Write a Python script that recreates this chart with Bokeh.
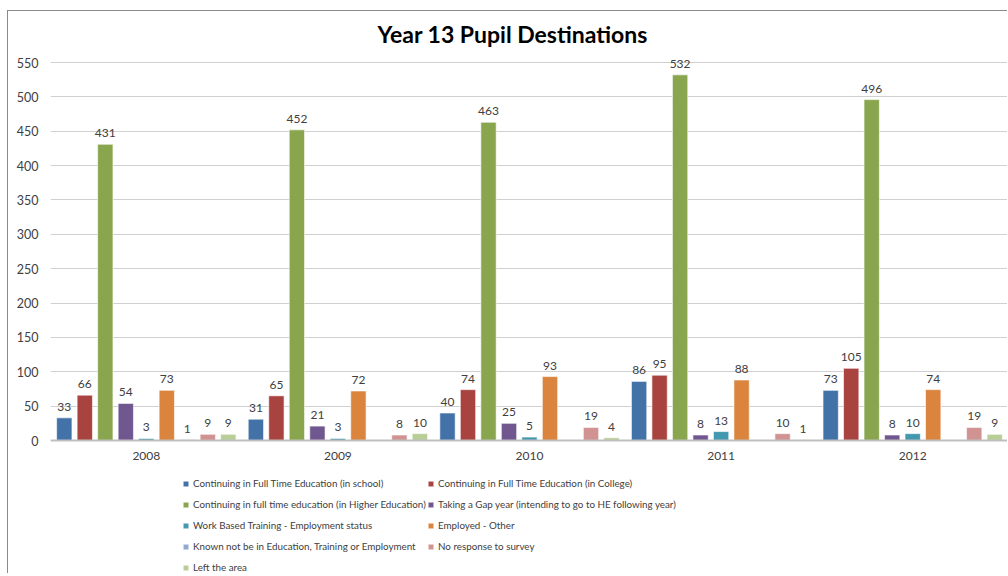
from bokeh.plotting import figure
from bokeh.models import (ColumnDataSource, FactorRange, FixedTicker, Legend, LegendItem,
                          Range1d, Label, Span)
from bokeh.transform import dodge
from bokeh.core.properties import value
from bokeh.embed import file_html
from bokeh.resources import INLINE

# ---- data ----
years = ["2008", "2009", "2010", "2011", "2012"]
series_names = [
    "Continuing in Full Time Education (in school)",
    "Continuing in Full Time Education (in College)",
    "Continuing in full time education (in Higher Education)",
    "Taking a Gap year (intending to go to HE following year)",
    "Work Based Training - Employment status",
    "Employed - Other",
    "Known not be in Education, Training or Employment",
    "No response to survey",
    "Left the area",
]
school = [33, 31, 40, 86, 73]
college = [66, 65, 74, 95, 105]
higher_ed = [431, 452, 463, 532, 496]
gap_year = [54, 21, 25, 8, 8]
work_training = [3, 3, 5, 13, 10]
employed = [73, 72, 93, 88, 74]
neet = [1, None, None, None, None]
no_response = [9, 8, 19, 10, 19]
left_area = [9, 10, 4, 1, 9]
y_ticks = [0, 50, 100, 150, 200, 250, 300, 350, 400, 450, 500, 550]
title_text = "Year 13  Pupil Destinations"

series_values = [school, college, higher_ed, gap_year, work_training,
                 employed, neet, no_response, left_area]
colors = ["#4372A8", "#A9433F", "#89A64E", "#71578F", "#4298AF",
          "#DA843D", "#93A8CE", "#D19391", "#B8CE96"]

FONT = "Lato"

# frame spans page y 11..574; 550 sits at page y 62 and 0 at page y 440
px_per_unit = 378 / 550
y_top = 550 + 51 / px_per_unit
y_bottom = -134 / px_per_unit

p = figure(width=1000, height=563, x_range=FactorRange(*years, range_padding=0),
           y_range=Range1d(y_bottom, y_top), output_backend="svg", toolbar_location=None,
           x_axis_location=None,
           min_border_left=42, min_border_right=0, min_border_top=0,
           min_border_bottom=0)
p.styles = {"margin-left": "7px", "margin-top": "10px", "vertical-align": "top",
            "border-left": "1px solid #8A8A8A", "border-top": "1px solid #8A8A8A"}
p.outline_line_color = None

# title (screen position relative to the plot frame)
p.add_layout(Label(x=465, y=541, x_units="screen", y_units="screen", text=title_text,
                   text_align="center", text_baseline="middle", text_font=FONT,
                   text_font_size="23px", text_font_style="bold", text_color="#000000"))

# y axis
p.yaxis.ticker = FixedTicker(ticks=y_ticks)
p.yaxis.axis_line_color = None
p.yaxis.major_tick_line_color = None
p.yaxis.major_tick_out = 0
p.yaxis.major_tick_in = 0
p.yaxis.minor_tick_line_color = None
p.yaxis.major_label_standoff = 12
p.yaxis.major_label_text_font = FONT
p.yaxis.major_label_text_font_size = "12.5px"
p.yaxis.major_label_text_color = "#404040"

p.xgrid.grid_line_color = None
p.ygrid.grid_line_color = "#D0D0D0"
p.ygrid.grid_line_width = 1

# baseline at zero
p.add_layout(Span(location=0, dimension="width", line_color="#BFBFBF", line_width=2))

pitch = 0.107
bw = 0.08
renderers = []
for i, (name, vals, col) in enumerate(zip(series_names, series_values, colors)):
    xs = [y for y, v in zip(years, vals) if v is not None]
    ys = [v for v in vals if v is not None]
    src = ColumnDataSource(dict(year=xs, val=ys, lab=[str(v) for v in ys]))
    off = (i - 4) * pitch
    r = p.vbar(x=dodge("year", off, range=p.x_range), top="val", width=bw,
               source=src, fill_color=col, line_color="white", line_width=0.6)
    p.text(x=dodge("year", off, range=p.x_range), y="val", text="lab", source=src,
           text_align="center", text_baseline="bottom", y_offset=-7,
           text_font=value(FONT), text_font_size="12px", text_color="#404040")
    renderers.append((name, r))

# category (year) labels under the baseline
year_src = ColumnDataSource(dict(year=years, y0=[0] * len(years)))
p.text(x="year", y="y0", text="year", source=year_src, text_align="center",
       text_baseline="top", y_offset=11, text_font=value(FONT),
       text_font_size="12px", text_color="#404040")

left_items = [LegendItem(label=n, renderers=[r]) for n, r in renderers[0::2]]
right_items = [LegendItem(label=n, renderers=[r]) for n, r in renderers[1::2]]


def make_legend(items, loc):
    return Legend(items=items, location=loc, orientation="vertical",
                  glyph_width=7, glyph_height=7, label_height=16, spacing=5,
                  label_standoff=4, padding=0, margin=0, border_line_color=None,
                  background_fill_alpha=0, label_text_font=FONT,
                  label_text_font_size="9.8px", label_text_color="#404040")


p.add_layout(make_legend(left_items, (132, -1)), "center")
p.add_layout(make_legend(right_items, (377, 20)), "center")

open("out.html", "w").write(file_html(p, INLINE))
